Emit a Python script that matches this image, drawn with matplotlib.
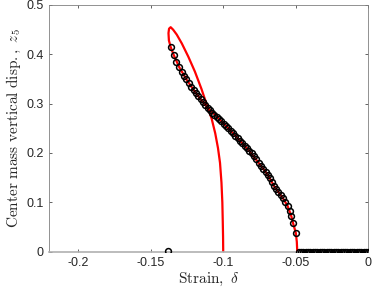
import matplotlib
matplotlib.use('Agg')
import matplotlib.pyplot as plt

# red continuation curve (strain, z5)
curve_strain = [-0.1000, -0.1001, -0.1003, -0.1006, -0.1012, -0.1022, -0.1036, -0.1055,
                -0.1080, -0.1110, -0.1150, -0.1195, -0.1240, -0.1285, -0.1320, -0.1345,
                -0.1362, -0.1373, -0.1377, -0.1374, -0.1361, -0.1340, -0.1303, -0.1253,
                -0.1204, -0.1156, -0.1108, -0.1028, -0.0932, -0.0820, -0.0740, -0.0693,
                -0.0650, -0.0620, -0.0588, -0.0557, -0.0531, -0.0519, -0.0500, -0.0493,
                -0.0490]
curve_z5 = [0.000, 0.030, 0.060, 0.100, 0.140, 0.180, 0.210, 0.240,
            0.270, 0.295, 0.330, 0.365, 0.395, 0.422, 0.440, 0.450,
            0.455, 0.452, 0.443, 0.428, 0.414, 0.398, 0.374, 0.349,
            0.328, 0.309, 0.292, 0.269, 0.240, 0.204, 0.174, 0.156,
            0.133, 0.121, 0.108, 0.093, 0.072, 0.058, 0.038, 0.020,
            0.000]

# simulation points (circles)
sim_strain = [-0.1361, -0.1340, -0.1322, -0.1303, -0.1286, -0.1270, -0.1253, -0.1236,
              -0.1220, -0.1204, -0.1188, -0.1172, -0.1156, -0.1140, -0.1124, -0.1108,
              -0.1092, -0.1076, -0.1060, -0.1044, -0.1028, -0.1012, -0.0996, -0.0980,
              -0.0964, -0.0948, -0.0932, -0.0916, -0.0900, -0.0884, -0.0868, -0.0852,
              -0.0836, -0.0820, -0.0804, -0.0788, -0.0772, -0.0756, -0.0740, -0.0724,
              -0.0708, -0.0693, -0.0678, -0.0664, -0.0650, -0.0636, -0.0620, -0.0604,
              -0.0588, -0.0572, -0.0557, -0.0543, -0.0531, -0.0519, -0.0500]
sim_z5 = [0.414, 0.398, 0.385, 0.374, 0.365, 0.357, 0.349, 0.341,
          0.334, 0.328, 0.322, 0.316, 0.309, 0.303, 0.297, 0.292,
          0.287, 0.282, 0.278, 0.273, 0.269, 0.264, 0.259, 0.255,
          0.250, 0.245, 0.240, 0.235, 0.230, 0.225, 0.220, 0.215,
          0.210, 0.204, 0.199, 0.193, 0.187, 0.180, 0.174, 0.168,
          0.162, 0.156, 0.149, 0.141, 0.133, 0.127, 0.121, 0.115,
          0.108, 0.101, 0.093, 0.083, 0.072, 0.058, 0.038]

flat_strain = [-0.0480, -0.0464, -0.0448, -0.0432, -0.0416, -0.0400, -0.0384, -0.0368,
               -0.0352, -0.0336, -0.0320, -0.0304, -0.0288, -0.0272, -0.0256, -0.0240,
               -0.0224, -0.0208, -0.0192, -0.0176, -0.0160, -0.0144, -0.0128, -0.0112,
               -0.0096, -0.0080, -0.0064, -0.0048, -0.0032, -0.0016, 0.0000]
flat_z5 = [0.0] * len(flat_strain)

lone_strain = [-0.1378]
lone_z5 = [0.0015]

xticks = [-0.2, -0.15, -0.1, -0.05, 0]
xticklabels = ['-0.2', '-0.15', '-0.1', '-0.05', '0']
yticks = [0, 0.1, 0.2, 0.3, 0.4, 0.5]
yticklabels = ['0', '0.1', '0.2', '0.3', '0.4', '0.5']

plt.rcParams['font.family'] = ['Liberation Sans', 'DejaVu Sans']
plt.rcParams['mathtext.fontset'] = 'cm'
plt.rcParams['axes.unicode_minus'] = False

fig = plt.figure(figsize=(3.74, 2.94), dpi=100)
ax = fig.add_axes([0.131, 0.144, 0.854, 0.839])

ax.plot(curve_strain, curve_z5, color='red', linewidth=1.6, zorder=2)
mk = dict(linestyle='none', marker='o', markersize=4.2, markerfacecolor='none',
          markeredgecolor='black', markeredgewidth=1.1, zorder=3)
ax.plot(sim_strain, sim_z5, **mk)
ax.plot(flat_strain, flat_z5, **mk)
ax.plot(lone_strain, lone_z5, **mk)

ax.set_xlim(-0.22, 0)
ax.set_ylim(0, 0.5)
ax.set_xticks(xticks)
ax.set_xticklabels(xticklabels)
ax.set_yticks(yticks)
ax.set_yticklabels(yticklabels)

ax.tick_params(direction='in', length=2.5, width=0.5, colors='#262626',
               labelsize=9, top=True, right=True, pad=4)
for s in ax.spines.values():
    s.set_color('#808080')
    s.set_linewidth(0.6)
ax.spines['bottom'].set_color('#b0b0b0')
ax.spines['bottom'].set_linewidth(1.2)

ax.set_xlabel(r'$\mathrm{Strain,}\ \delta$', fontsize=11, color='#262626', labelpad=1)
ax.set_ylabel(r'$\mathrm{Center\ mass\ vertical\ disp.,}\ z_5$', fontsize=11,
              color='#262626', labelpad=2)

fig.savefig('out.png', dpi=100)
